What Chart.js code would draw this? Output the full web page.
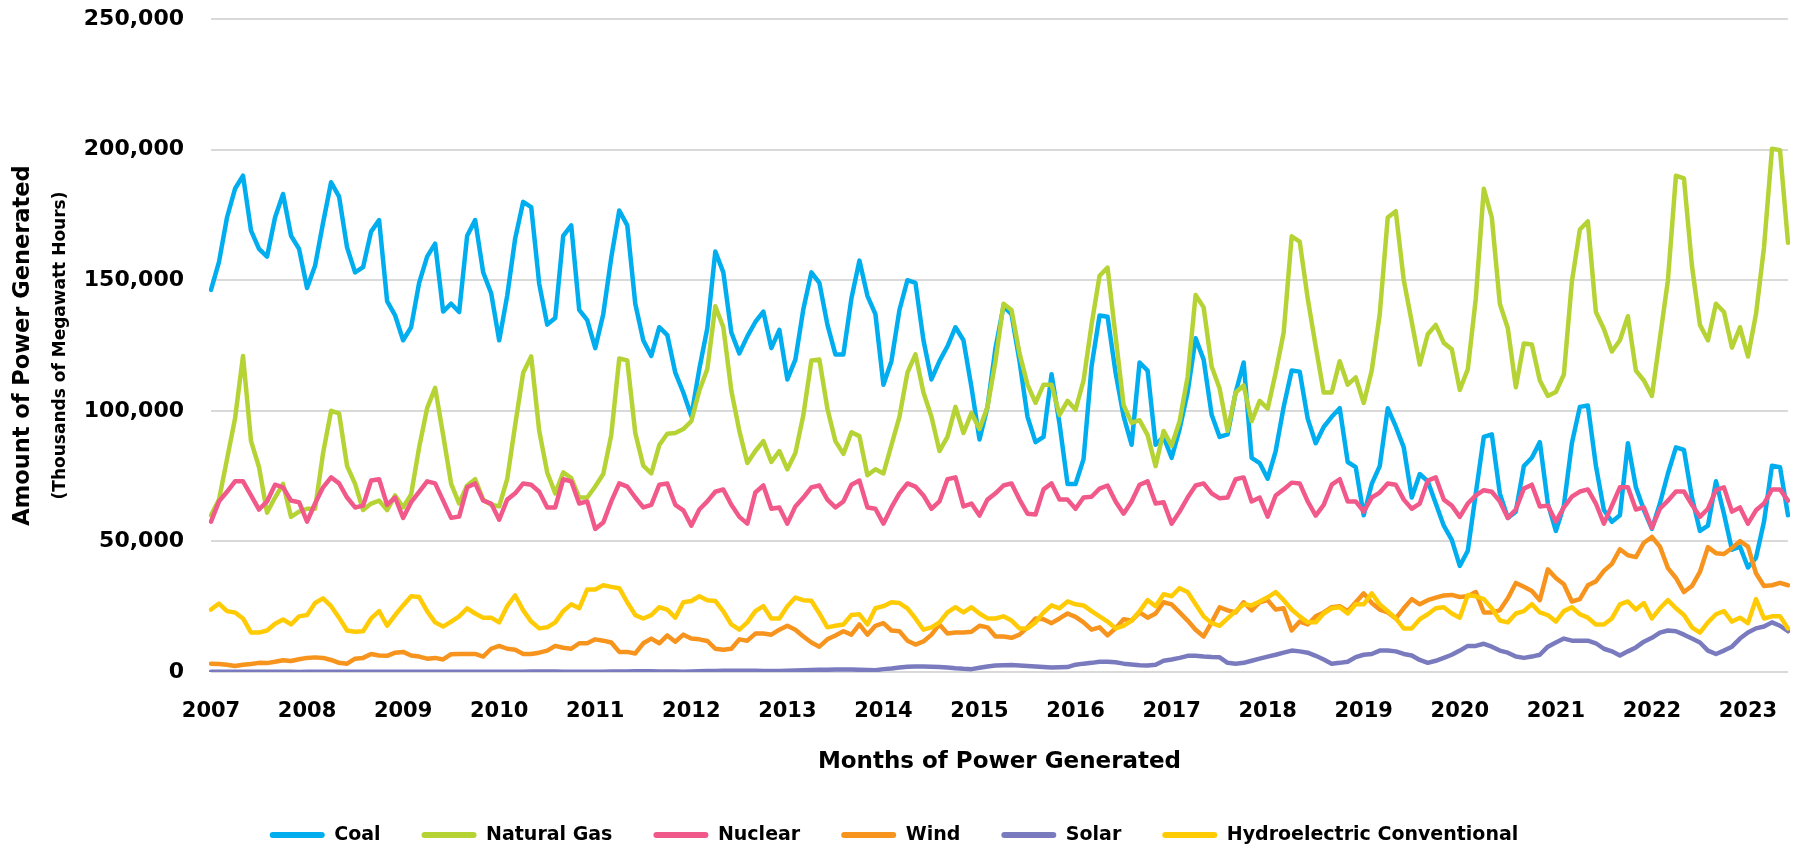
<!DOCTYPE html>
<html lang="en">
<head>
  <meta charset="UTF-8" />
  <title>US Power Generation by Source</title>
  <style>
    body {
      background: #ffffff;
      margin: 0;
    }
    canvas {
      display: block;
    }
  </style>
  <script src="https://cdn.jsdelivr.net/npm/chart.js"></script>
</head>
<body>
  <canvas id="powerChart" width="1793" height="850"></canvas>

  <script>
    // monthly generation, thousands of MWh, Jan 2007 .. Jun 2023
    const years = [2007, 2008, 2009, 2010, 2011, 2012, 2013, 2014, 2015, 2016, 2017, 2018, 2019, 2020, 2021, 2022, 2023];
    const monthCount = 198;

    const coal = [
      146300, 157000, 174000, 185000, 190000, 169000, 162000, 159000, 174000, 183000, 167000, 162000,
      147000, 155500, 172000, 187500, 182000, 162500, 153000, 155000, 168600, 173000, 142000, 136500,
      127000, 132000, 149000, 159000, 164000, 138000, 141000, 137800, 167000, 173000, 153000, 145000,
      127000, 144000, 166000, 180000, 178000, 148600, 133000, 135500, 167000, 171000, 138600, 134700,
      124000, 137000, 158600, 176700, 171000, 141000, 127000, 121000, 132000, 129000, 114600, 107000,
      98000, 116000, 131600, 161000, 153000, 130000, 122000, 128500, 134000, 138000, 124000, 131000,
      112000, 119600, 139000, 153000, 149000, 133000, 121600, 121600, 143000, 157500, 144000, 137000,
      110000, 119000, 138600, 150000, 149000, 127000, 112000, 119000, 124700, 132000, 127000, 109000,
      89000, 101500, 124000, 140000, 137000, 119000, 97700, 88000, 90000, 114000, 95000, 72000,
      72000, 81500, 117000, 136500, 136000, 114600, 98000, 87000, 118500, 115400, 87000, 90000,
      82000, 93000, 107000, 127800, 119600, 98500, 90000, 91000, 107000, 118500, 82000, 80000,
      74000, 84600, 101500, 115400, 115000, 97000, 87600, 93800, 97700, 101000, 80400, 78400,
      60000, 72000, 78800, 101000, 94000, 86000, 66800, 75800, 73000, 64500, 56000, 50600,
      40600, 46400, 68400, 90000, 91000, 68400, 59000, 61400, 78800, 82000, 88000, 64500,
      54000, 63700, 87600, 101500, 102000, 79000, 62000, 57500, 60000, 87600, 70700, 62000,
      54800, 64500, 76000, 86000, 85000, 66800, 54000, 56000, 73000, 60600, 46800, 48000,
      40000, 43700, 57500, 79000, 78400, 60000
    ];

    const naturalGas = [
      60000, 66000, 81500, 97000, 121000, 88400, 78400, 61000, 66800, 72000, 59400, 61400,
      62500, 62500, 83800, 100000, 99000, 78800, 72000, 62000, 64500, 65600, 62000, 67600,
      63000, 68000, 86000, 101000, 108800, 90700, 72000, 64500, 71400, 73800, 66000, 64000,
      63400, 73800, 94600, 114600, 120800, 92300, 76400, 68400, 76400, 74200, 66800, 66800,
      71000, 75800, 90700, 120000, 119300, 91500, 79000, 76000, 86900, 91200, 91500, 93000,
      96000, 107700, 116000, 140000, 132000, 107700, 92300, 80000, 84600, 88400, 80400, 84600,
      77600, 83800, 98400, 119300, 119600, 100800, 88400, 83500, 91800, 90300, 75300, 77600,
      76000, 86900, 97700, 114600, 121600, 107000, 97700, 84600, 90000, 101500, 91500, 99200,
      93000, 101500, 119000, 141000, 138600, 122000, 110000, 103000, 110000, 110000, 98400, 103800,
      100400, 111600, 133000, 151700, 154800, 128500, 102300, 95400, 96400, 90700, 78800, 92300,
      86600, 96000, 113000, 144300, 139600, 117000, 108500, 92300, 107000, 109700, 96000, 103800,
      100800, 114600, 130000, 166800, 164800, 143000, 124700, 107000, 107000, 119000, 110000, 112800,
      103000, 115400, 137000, 174000, 176400, 150000, 134000, 117700, 129300, 132900, 126000, 123600,
      108000, 115900, 143000, 185000, 174000, 141000, 131600, 109000, 125800, 125400, 111600, 105700,
      107200, 113900, 149400, 169400, 172500, 137800, 131300, 122700, 127000, 136200, 115400, 111600,
      105700, 127800, 150000, 190000, 189000, 155500, 132900, 127000, 141000, 137800, 124200, 132000,
      120800, 137000, 162500, 200300, 199800, 164300
    ];

    const nuclear = [
      57600, 65300, 69000, 73000, 73000, 67600, 62200, 65300, 71700, 70700, 65600, 65000,
      57600, 64500, 70700, 74500, 72200, 66800, 63000, 63700, 73300, 73800, 64000, 66800,
      59000, 65000, 69000, 73000, 72200, 65600, 59000, 59500, 70700, 72200, 65600, 64500,
      58300, 66000, 68400, 72200, 71700, 69000, 63000, 63000, 73800, 73000, 64500, 65300,
      54800, 57200, 65300, 72200, 71000, 66800, 63000, 64000, 71700, 72200, 64000, 61900,
      56000, 62200, 65300, 69000, 69900, 64000, 59400, 56800, 68700, 71400, 62500, 63000,
      56800, 63400, 66800, 70700, 71400, 66000, 63000, 65300, 71700, 73300, 63000, 62500,
      56800, 63000, 68400, 72200, 71000, 67600, 62500, 65300, 73800, 74500, 63400, 64500,
      59900, 66000, 68400, 71400, 72200, 66000, 60600, 60300, 69900, 72200, 66000, 66000,
      62500, 66800, 67100, 70200, 71400, 65300, 60600, 65300, 71700, 73000, 64500, 65000,
      56800, 61400, 66800, 71400, 72200, 68400, 66500, 66800, 73800, 74500, 65300, 66800,
      59500, 67600, 69900, 72500, 72200, 65300, 59900, 64000, 71700, 73800, 65300, 65300,
      61400, 66800, 68700, 72200, 71700, 66000, 62500, 64500, 73300, 74500, 66000, 63700,
      59400, 64500, 67600, 69600, 69000, 65300, 59000, 62200, 70200, 71700, 63400, 63700,
      57600, 63000, 67100, 69100, 69900, 64500, 56800, 63700, 70700, 70700, 62200, 63000,
      55200, 62500, 65600, 69100, 69100, 64000, 59400, 62500, 69600, 70700, 61400, 63000,
      56800, 61900, 64500, 69900, 69900, 65600
    ];

    const wind = [
      3200, 3100, 2800, 2300, 2800, 3100, 3500, 3400, 3900, 4500, 4200, 4900,
      5400, 5600, 5400, 4600, 3500, 3200, 5100, 5400, 6900, 6300, 6200, 7400,
      7700, 6300, 5900, 5100, 5400, 4800, 6800, 6900, 6900, 6900, 5900, 8900,
      10000, 8900, 8500, 6900, 6900, 7400, 8200, 10000, 9300, 8900, 11000, 11000,
      12500, 12000, 11300, 7700, 7700, 7100, 11000, 12800, 11000, 14000, 11600, 14300,
      12800, 12500, 11900, 8900, 8500, 8900, 12500, 12000, 14700, 14700, 14300, 16200,
      17700, 16200, 13600, 11300, 9700, 12500, 14000, 15600, 14300, 18200, 14300, 17700,
      18700, 15900, 15600, 12000, 10500, 11700, 14300, 18200, 14700, 15100, 15100, 15400,
      17700, 17100, 13600, 13600, 13100, 14300, 17100, 20500, 20200, 18700, 20500, 22400,
      21100, 19000, 16200, 17100, 14000, 16700, 20200, 19700, 22800, 20800, 22400, 26700,
      25900, 22800, 19700, 16200, 13600, 19000, 24800, 23600, 22800, 26700, 23600, 26700,
      27500, 23900, 24400, 15900, 19300, 18200, 21300, 22800, 24800, 25200, 23300, 26700,
      30100, 26400, 23900, 22800, 20500, 24400, 27900, 25900, 27500, 28500, 29300, 29500,
      28700, 29000, 30600, 22800, 22800, 23600, 28200, 34100, 32600, 31000, 27500, 39300,
      36000, 33600, 27000, 27900, 33200, 34700, 38700, 41400, 47000, 44700, 44000, 49500,
      51700, 48000, 39800, 36000, 30600, 32900, 38300, 47800, 45500, 45200, 47500, 50100,
      48000, 37800, 32900, 33200, 34100, 33200
    ];

    const solar = [
      50, 50, 80, 80, 90, 100, 100, 100, 80, 70, 50, 40,
      50, 60, 80, 90, 100, 110, 110, 110, 90, 80, 60, 50,
      60, 70, 90, 100, 110, 120, 120, 120, 100, 90, 70, 60,
      70, 90, 120, 130, 150, 160, 160, 160, 140, 110, 90, 70,
      100, 120, 160, 190, 220, 250, 260, 260, 220, 200, 150, 120,
      200, 280, 350, 400, 450, 480, 500, 500, 450, 400, 350, 380,
      500, 550, 650, 750, 850, 900, 950, 1000, 950, 850, 750, 700,
      1100, 1300, 1700, 2000, 2100, 2100, 2000, 1900, 1700, 1400, 1200, 1100,
      1600, 2100, 2500, 2600, 2700, 2500, 2300, 2100, 1900, 1700, 1800, 1900,
      2800, 3200, 3500, 3900, 3900, 3700, 3200, 2900, 2600, 2500, 2800, 4300,
      4800, 5400, 6200, 6200, 5900, 5700, 5600, 3500, 3200, 3500, 4300, 5100,
      5900, 6600, 7400, 8200, 7900, 7400, 6200, 4800, 3200, 3500, 3900, 5700,
      6600, 6900, 8200, 8200, 7900, 6900, 6300, 4600, 3500, 4300, 5400, 6600,
      8200, 10000, 10000, 10800, 9700, 8200, 7400, 5900, 5400, 5900, 6600, 9700,
      11300, 12800, 12000, 12000, 12000, 11000, 8900, 7900, 6300, 7900, 9400, 11600,
      13100, 15100, 15900, 15600, 14300, 12800, 11300, 8200, 6900, 8200, 9700, 12800,
      15100, 16700, 17400, 19000, 17700, 15600
    ];

    const hydro = [
      23900, 26200, 23300, 22800, 20500, 15100, 15100, 15900, 18500, 20100, 18200, 21300,
      21800, 26400, 28200, 25200, 20800, 15900, 15400, 15600, 20500, 23300, 17700, 21800,
      25500, 29000, 28700, 23300, 19000, 17400, 19300, 21300, 24400, 22400, 20800, 20800,
      19000, 25200, 29300, 23600, 19300, 16700, 17100, 19000, 23300, 25900, 24400, 31600,
      31600, 33200, 32600, 32100, 26700, 21800, 20500, 21800, 24800, 23900, 20800, 26700,
      27200, 29000, 27500, 27200, 23200, 18200, 16200, 19000, 23300, 25200, 20500, 20500,
      25200, 28500, 27500, 27300, 22400, 17100, 17700, 18200, 21800, 22100, 18200, 24400,
      25200, 26700, 26400, 24400, 20500, 16200, 17100, 19000, 22800, 24800, 22800, 24800,
      22400, 20500, 20500, 21300, 19700, 16700, 16700, 19000, 22800, 25500, 24400, 27000,
      25900, 25500, 23300, 21300, 19300, 16700, 17700, 19700, 23300, 27500, 25200, 29800,
      29000, 32100, 30600, 25900, 21300, 18700, 17700, 20500, 23300, 25900, 25500, 27000,
      28600, 30600, 27500, 23900, 21300, 19000, 19000, 22400, 24400, 24800, 22400, 25900,
      25900, 30100, 25900, 23300, 20500, 16700, 16700, 20200, 22100, 24400, 24800, 22400,
      20800, 29500, 29000, 27900, 24400, 19700, 19000, 22400, 23300, 26000, 22800, 21800,
      19300, 23300, 24800, 22100, 20800, 18200, 18200, 20500, 25900, 27000, 23900, 26400,
      20500, 24400, 27500, 24400, 21800, 17100, 15100, 19000, 22100, 23300, 19300, 20800,
      18700, 27900, 20500, 21300, 21300, 16700
    ];

    const yTicks = [0, 50000, 100000, 150000, 200000, 250000];

    // month labels like "2007-01"
    const months = [];
    years.forEach(y => {
      for (let m = 1; m <= 12; m++) months.push(y + '-' + String(m).padStart(2, '0'));
    });
    const labels = months.slice(0, monthCount);

    const series = [
      { label: 'Coal', data: coal, color: '#00AEEF' },
      { label: 'Natural Gas', data: naturalGas, color: '#B5D334' },
      { label: 'Nuclear', data: nuclear, color: '#F0598A' },
      { label: 'Wind', data: wind, color: '#F7941E' },
      { label: 'Solar', data: solar, color: '#7A7BBF' },
      { label: 'Hydroelectric Conventional', data: hydro, color: '#FFCB05' }
    ];

    Chart.defaults.font.family = '"DejaVu Sans", sans-serif';
    Chart.defaults.color = '#000';

    // axis titles: two-line vertical one on the left, plain one under the years
    const axisTitles = {
      id: 'axisTitles',
      afterDraw(chart) {
        const { ctx, chartArea } = chart;
        const cy = (chartArea.top + chartArea.bottom) / 2;
        ctx.save();
        ctx.fillStyle = '#000';
        ctx.textAlign = 'center';
        ctx.textBaseline = 'middle';

        ctx.font = 'bold 23px "DejaVu Sans"';
        ctx.fillText('Months of Power Generated', (chartArea.left + chartArea.right) / 2, 762);

        ctx.translate(23, cy);
        ctx.rotate(-Math.PI / 2);
        ctx.font = 'bold 22.5px "DejaVu Sans"';
        ctx.fillText('Amount of Power Generated', 0, 0);
        ctx.font = 'bold 17px "DejaVu Sans"';
        ctx.fillText('(Thousands of Megawatt Hours)', 0, 38);
        ctx.restore();
      }
    };

    const ctx = document.getElementById('powerChart').getContext('2d');
    const chart = new Chart(ctx, {
      type: 'line',
      data: {
        labels: labels,
        datasets: series.map((s, i) => ({
          label: s.label,
          data: s.data,
          borderColor: s.color,
          backgroundColor: s.color,
          borderWidth: 4.5,
          pointRadius: 0,
          tension: 0,
          borderJoinStyle: 'round',
          borderCapStyle: 'round',
          fill: false,
          order: series.length - 1 - i // later series drawn on top
        }))
      },
      options: {
        responsive: false,
        animation: false,
        devicePixelRatio: 1,
        layout: {
          padding: { left: 0, right: 5, top: 19, bottom: -4.5 }
        },
        scales: {
          x: {
            type: 'category',
            grid: { display: false, drawTicks: false },
            border: { display: false },
            afterFit: axis => {
              axis.paddingLeft = 0;
              axis.paddingRight = 0;
              axis.height = 112.5;
            },
            ticks: {
              autoSkip: false,
              maxRotation: 0,
              minRotation: 0,
              padding: 27,
              font: { size: 21, weight: 'bold' },
              callback: function (value, index) {
                const lab = labels[index];
                return lab.endsWith('-01') ? lab.slice(0, 4) : '';
              }
            }
          },
          y: {
            min: yTicks[0],
            max: yTicks[yTicks.length - 1],
            grid: { color: '#d9d9d9', lineWidth: 2, drawTicks: false },
            border: { display: false },
            afterBuildTicks: axis => {
              axis.ticks = yTicks.map(v => ({ value: v }));
            },
            afterFit: axis => {
              axis.width = 211;
              axis.paddingTop = 0;
              axis.paddingBottom = 0;
            },
            ticks: {
              padding: 27,
              font: { size: 22, weight: 'bold' },
              callback: v => v.toLocaleString('en-US')
            }
          }
        },
        plugins: {
          legend: {
            position: 'bottom',
            labels: {
              boxWidth: 55,
              boxHeight: 6,
              padding: 41,
              font: { size: 19, weight: 'bold' },
              sort: (a, b) => a.datasetIndex - b.datasetIndex,
              generateLabels: function (chart) {
                const items = Chart.defaults.plugins.legend.labels.generateLabels(chart);
                items.forEach(it => {
                  it.lineWidth = 0;
                  it.borderRadius = 3;
                });
                return items;
              }
            }
          },
          tooltip: { enabled: false }
        }
      },
      plugins: [axisTitles]
    });
  </script>
</body>
</html>
